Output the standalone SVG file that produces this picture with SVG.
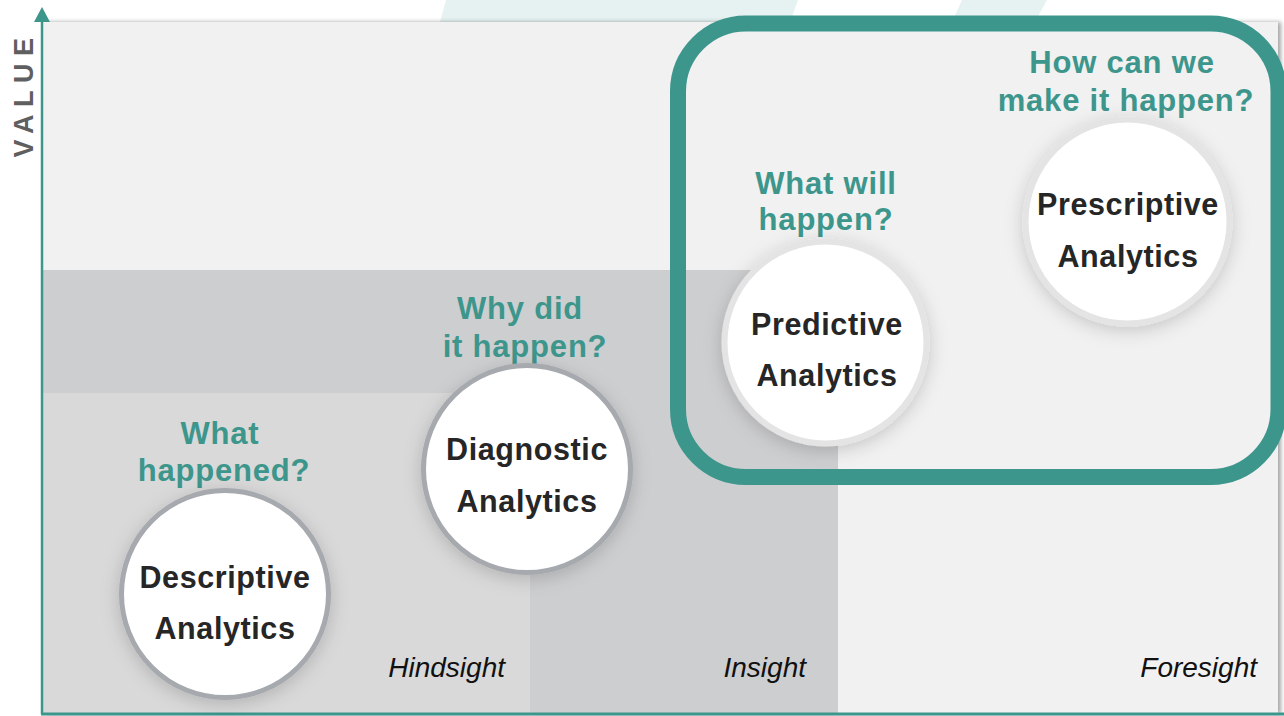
<svg xmlns="http://www.w3.org/2000/svg" width="1284" height="716" viewBox="0 0 1284 716">
  <defs>
    <filter id="soft" x="-30%" y="-30%" width="160%" height="160%">
      <feDropShadow dx="0" dy="4" stdDeviation="9" flood-color="#000" flood-opacity="0.18"/>
    </filter>
    <filter id="edge" x="-5%" y="-5%" width="110%" height="110%">
      <feDropShadow dx="3" dy="0" stdDeviation="2" flood-color="#000" flood-opacity="0.35"/>
    </filter>
    <style>
      .q { font-family: "Liberation Sans", Arial, sans-serif; font-weight: bold; font-size: 31px; fill: #3d968c; text-anchor: middle; letter-spacing: 0.8px; }
      .lbl { font-family: "Liberation Sans", Arial, sans-serif; font-weight: bold; font-size: 30.5px; fill: #262626; text-anchor: middle; letter-spacing: 0.6px; }
      .axis-lbl { font-family: "Liberation Sans", Arial, sans-serif; font-style: italic; font-size: 28px; fill: #111; text-anchor: end; }
      .disc { fill: #ffffff; filter: url(#soft); }
      .ring-past { stroke: #a6a9ae; stroke-width: 5; }
      .ring-future { stroke: #e4e4e4; stroke-width: 6; }
    </style>
  </defs>

  <rect width="1284" height="716" fill="#ffffff"/>

  <!-- pale slanted bands along the top edge -->
  <polygon points="446,0 798,0 790,22 440,22" fill="#e6f2f2"/>
  <polygon points="962,0 1047,0 1035,22 952,22" fill="#e6f2f2"/>

  <!-- chart panel -->
  <rect id="panel" x="43" y="22" width="1235" height="692" fill="#f1f1f1" filter="url(#edge)"/>

  <!-- value bands -->
  <g id="bands">
    <rect x="43" y="270" width="795" height="444" fill="#cdced0"/>
    <rect x="43" y="393" width="487" height="321" fill="#d9d9d9"/>
  </g>

  <!-- highlight frame around forward-looking analytics -->
  <rect id="future-frame" x="678" y="23.5" width="600.5" height="453.5" rx="68" ry="68" fill="none" stroke="#3d968c" stroke-width="16"/>

  <!-- axes -->
  <g id="connectors">
    <line x1="42" y1="714" x2="42" y2="20" stroke="#3d968c" stroke-width="2.5"/>
    <polygon points="34,22 50,22 42,7" fill="#3d968c"/>
    <line x1="41" y1="714" x2="1284" y2="714" stroke="#3d968c" stroke-width="3"/>
  </g>

  <text id="value-label" transform="translate(33,94) rotate(-90)" font-family="'Liberation Sans', Arial, sans-serif" font-weight="bold" font-size="27" fill="#5f5f5f" text-anchor="middle" letter-spacing="7.5">VALUE</text>

  <g id="axis-labels">
    <text class="axis-lbl" x="505" y="677">Hindsight</text>
    <text class="axis-lbl" x="806" y="677">Insight</text>
    <text class="axis-lbl" x="1257" y="677">Foresight</text>
  </g>

  <g id="descriptive">
    <text class="q" x="220" y="444">What</text>
    <text class="q" x="224" y="481">happened?</text>
    <circle class="disc ring-past" cx="225" cy="594" r="103.5"/>
    <text class="lbl" x="225" y="588">Descriptive</text>
    <text class="lbl" x="225" y="639">Analytics</text>
  </g>

  <g id="diagnostic">
    <text class="q" x="520" y="319">Why did</text>
    <text class="q" x="525" y="357">it happen?</text>
    <circle class="disc ring-past" cx="527" cy="469" r="103.5"/>
    <text class="lbl" x="527" y="460">Diagnostic</text>
    <text class="lbl" x="527" y="512">Analytics</text>
  </g>

  <g id="predictive">
    <text class="q" x="826" y="194">What will</text>
    <text class="q" x="826" y="230">happen?</text>
    <circle class="disc ring-future" cx="825.5" cy="342.5" r="101"/>
    <text class="lbl" x="827" y="335">Predictive</text>
    <text class="lbl" x="827" y="386">Analytics</text>
  </g>

  <g id="prescriptive">
    <text class="q" x="1122" y="73">How can we</text>
    <text class="q" x="1126" y="111">make it happen?</text>
    <circle class="disc ring-future" cx="1127.5" cy="221.5" r="102"/>
    <text class="lbl" x="1128" y="215">Prescriptive</text>
    <text class="lbl" x="1128" y="267">Analytics</text>
  </g>
</svg>
